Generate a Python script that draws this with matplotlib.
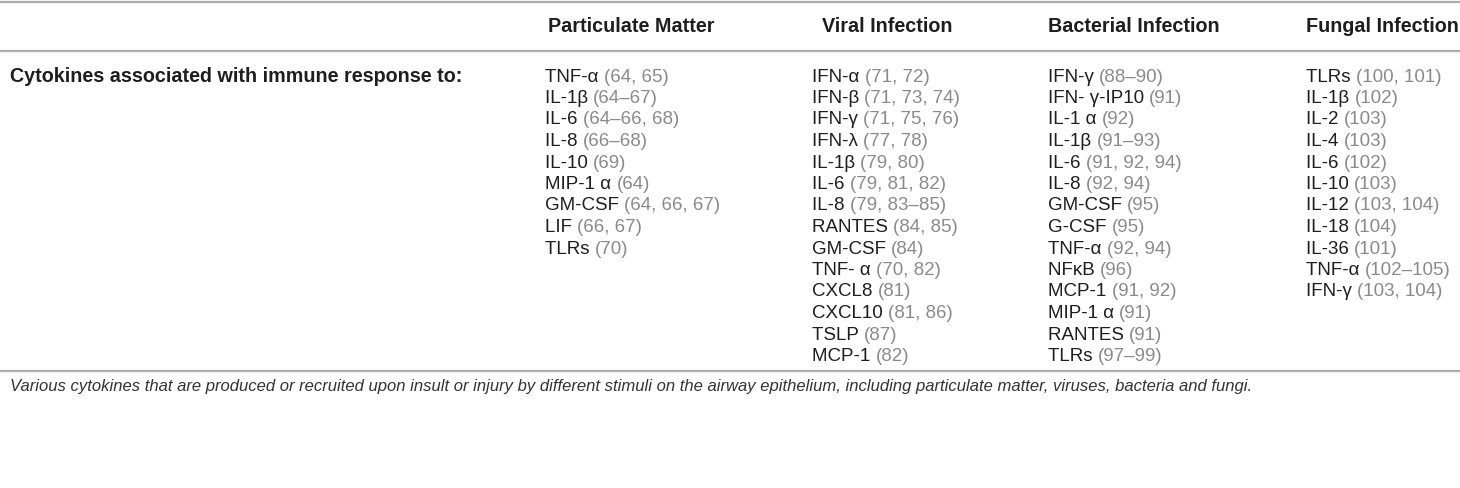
import matplotlib
matplotlib.use("Agg")
import matplotlib.pyplot as plt

# ---- data ----
headers = ["Particulate Matter", "Viral Infection", "Bacterial Infection", "Fungal Infection"]
row_label = "Cytokines associated with immune response to:"

particulate_names = ["TNF-α", "IL-1β", "IL-6", "IL-8", "IL-10", "MIP-1 α", "GM-CSF", "LIF", "TLRs"]
particulate_refs = ["(64, 65)", "(64–67)", "(64–66, 68)", "(66–68)", "(69)", "(64)", "(64, 66, 67)", "(66, 67)", "(70)"]

viral_names = ["IFN-α", "IFN-β", "IFN-γ", "IFN-λ", "IL-1β", "IL-6", "IL-8", "RANTES", "GM-CSF",
               "TNF- α", "CXCL8", "CXCL10", "TSLP", "MCP-1"]
viral_refs = ["(71, 72)", "(71, 73, 74)", "(71, 75, 76)", "(77, 78)", "(79, 80)", "(79, 81, 82)",
              "(79, 83–85)", "(84, 85)", "(84)", "(70, 82)", "(81)", "(81, 86)", "(87)", "(82)"]

bacterial_names = ["IFN-γ", "IFN- γ-IP10", "IL-1 α", "IL-1β", "IL-6", "IL-8", "GM-CSF", "G-CSF",
                   "TNF-α", "NFκB", "MCP-1", "MIP-1 α", "RANTES", "TLRs"]
bacterial_refs = ["(88–90)", "(91)", "(92)", "(91–93)", "(91, 92, 94)", "(92, 94)", "(95)", "(95)",
                  "(92, 94)", "(96)", "(91, 92)", "(91)", "(91)", "(97–99)"]

fungal_names = ["TLRs", "IL-1β", "IL-2", "IL-4", "IL-6", "IL-10", "IL-12", "IL-18", "IL-36",
                "TNF-α", "IFN-γ"]
fungal_refs = ["(100, 101)", "(102)", "(103)", "(103)", "(102)", "(103)", "(103, 104)", "(104)",
               "(101)", "(102–105)", "(103, 104)"]

caption = ("Various cytokines that are produced or recruited upon insult or injury by different stimuli "
           "on the airway epithelium, including particulate matter, viruses, bacteria and fungi.")

columns = [(particulate_names, particulate_refs), (viral_names, viral_refs),
           (bacterial_names, bacterial_refs), (fungal_names, fungal_refs)]

# ---- layout (pixel coordinates, origin top-left) ----
W, H = 1460, 488
fig = plt.figure(figsize=(W / 100, H / 100), dpi=100)
fig.patch.set_facecolor("white")
ax = fig.add_axes([0, 0, 1, 1])
ax.set_xlim(0, W)
ax.set_ylim(H, 0)
ax.axis("off")

FAM = ["Liberation Sans", "DejaVu Sans"]
FS = 13.5
FSB = 14.2
DARK = "#1e1e1e"
GREY = "#8a8a8a"
LINE = "#adadad"

# rules
for y in (2, 51, 371):
    ax.plot([0, W], [y, y], color=LINE, lw=1.6, solid_capstyle="butt")

header_x = [548, 822, 1048, 1306]
for hx, h in zip(header_x, headers):
    ax.text(hx, 27, h, fontsize=FSB, fontweight="bold", family=FAM, color=DARK,
            va="center", ha="left")

ax.text(10, 77, row_label, fontsize=FSB, fontweight="bold", family=FAM, color=DARK,
        va="center", ha="left")

col_x = [545, 812, 1048, 1306]
row0, dy = 77, 21.5
fig.canvas.draw()
renderer = fig.canvas.get_renderer()
inv = ax.transData.inverted()
for cx, (names, refs) in zip(col_x, columns):
    for i, (n, r) in enumerate(zip(names, refs)):
        y = row0 + i * dy
        t = ax.text(cx, y, n + " ", fontsize=FS, family=FAM, color=DARK, va="center", ha="left")
        bb = t.get_window_extent(renderer=renderer)
        x1 = inv.transform((bb.x1, bb.y0))[0]
        ax.text(x1, y, r, fontsize=FS, family=FAM, color=GREY, va="center", ha="left")

ax.text(10, 386, caption, fontsize=12.0, style="italic", family=FAM, color="#333333",
        va="center", ha="left")

fig.savefig("out.png", dpi=100, facecolor="white")
